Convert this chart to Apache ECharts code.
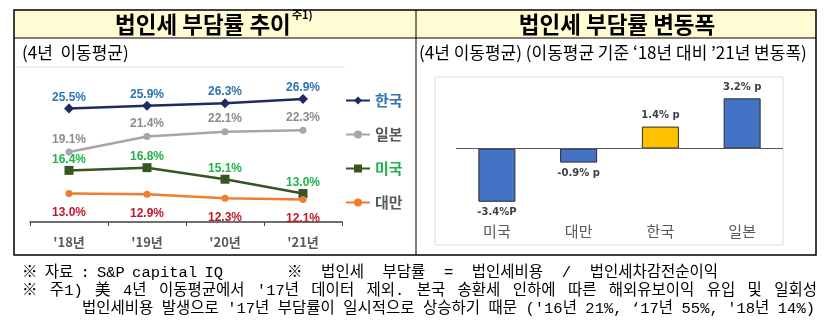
<!DOCTYPE html>
<html><head><meta charset="utf-8">
<script src="https://cdn.jsdelivr.net/npm/echarts@6/dist/echarts.min.js"></script>
<style>html,body{margin:0;padding:0;background:#fff}#c{width:835px;height:330px}</style>
</head><body><div id="c"></div>
<script>
// ---- data ----
const years = ["'18년", "'19년", "'20년", "'21년"];
const korea = [25.5, 25.9, 26.3, 26.9];
const japan = [19.1, 21.4, 22.1, 22.3];
const usa = [16.4, 16.8, 15.1, 13.0];
const taiwan = [13.0, 12.9, 12.3, 12.1];
const barCats = ['미국', '대만', '한국', '일본'];
const barVals = [-3.4, -0.9, 1.4, 3.2];
const barLabels = ['-3.4%P', '-0.9% p', '1.4% p', '3.2% p'];
const note1a = '※ 자료 : S&P capital IQ';
const note1b = '※ 법인세 부담률 = 법인세비용 / 법인세차감전순이익';
const note2 = "※ 주1) 美 4년 이동평균에서 '17년 데이터 제외. 본국 송환세 인하에 따른 해외유보이익 유입 및 일회성";
const note3 = "법인세비용 발생으로 '17년 부담률이 일시적으로 상승하기 때문 ('16년 21%, ‘17년 55%, '18년 14%)";

const KR = "'Noto Sans CJK KR', sans-serif";
const NOTE_FONT_FAMILY = "'Liberation Mono', 'Noto Sans CJK KR', monospace";
const NOTE_SIZE = 15.5;
const chart = echarts.init(document.getElementById('c'), null, {renderer: 'canvas'});

// justify a line of text between x0 and x1 by spreading inter-word spaces
const mctx = document.createElement('canvas').getContext('2d');
mctx.font = NOTE_SIZE + 'px ' + NOTE_FONT_FAMILY;
function justify(text, x0, x1, y) {
  const words = text.split(' ');
  const widths = words.map(w => mctx.measureText(w).width);
  const total = widths.reduce((a, b) => a + b, 0);
  const gap = words.length > 1 ? (x1 - x0 - total) / (words.length - 1) : 0;
  const out = [];
  let x = x0;
  words.forEach((w, i) => {
    out.push({type: 'text', x: x, y: y, style: {text: w, fontFamily: NOTE_FONT_FAMILY, fontSize: NOTE_SIZE, fill: '#000', verticalAlign: 'middle'}});
    x += widths[i] + gap;
  });
  return out;
}

const labelFont = {fontFamily: "'Liberation Sans', sans-serif", fontWeight: 'bold', fontSize: 12};
function lineSeries(name, data, color, symbol, size, labelColor, pos, dist) {
  return {
    name, type: 'line', data, xAxisIndex: 0, yAxisIndex: 0,
    symbol, symbolSize: size, showAllSymbol: true,
    lineStyle: {color, width: 2.5}, itemStyle: {color},
    label: Object.assign({show: true, position: pos, distance: dist, color: labelColor, formatter: p => p.value.toFixed(1) + '%'}, labelFont),
    emphasis: {disabled: true}, animation: false
  };
}

const option = {
  animation: false,
  grid: [
    {left: 30, width: 312, top: 78, height: 144},
    {left: 456, width: 327, top: 78, height: 141}
  ],
  xAxis: [
    {gridIndex: 0, type: 'category', data: years, boundaryGap: true,
     axisLine: {lineStyle: {color: '#404040', width: 1.5}},
     axisTick: {show: true, length: 4, lineStyle: {color: '#404040'}},
     axisLabel: {color: '#595959', fontFamily: KR, fontWeight: 'bold', fontSize: 13, margin: 14}},
    {gridIndex: 1, type: 'category', data: barCats,
     axisLine: {show: false, onZero: false}, axisTick: {show: false},
     axisLabel: {color: '#595959', fontFamily: KR, fontSize: 15, margin: 5}}
  ],
  yAxis: [
    {gridIndex: 0, type: 'value', min: 8.8, max: 30, show: false, splitLine: {show: false}},
    {gridIndex: 1, type: 'value', min: -4.5, max: 4.5, show: false, splitLine: {show: false}}
  ],
  legend: {
    orient: 'vertical', left: 340, top: 88, itemGap: 19, itemWidth: 24, itemHeight: 10,
    textStyle: {fontFamily: KR, fontSize: 15, fontWeight: 'bold'},
    data: [
      {name: '한국', textStyle: {color: '#2e74b5'}},
      {name: '일본', textStyle: {color: '#595959'}},
      {name: '미국', textStyle: {color: '#22b14c'}},
      {name: '대만', textStyle: {color: '#595959'}}
    ]
  },
  series: [
    lineSeries('한국', korea, '#1f2a60', 'diamond', 10, '#2e74b5', 'top', 0),
    lineSeries('일본', japan, '#a6a6a6', 'circle', 7, '#8c8c8c', 'top', 3),
    lineSeries('미국', usa, '#375623', 'rect', 9, '#22b14c', 'top', 0),
    lineSeries('대만', taiwan, '#ed7d31', 'circle', 7, '#c0182b', 'bottom', 10),
    {
      type: 'bar', xAxisIndex: 1, yAxisIndex: 1, barWidth: 37,
      data: barVals.map((v, i) => ({value: v, itemStyle: {color: barCats[i] === '한국' ? '#ffc000' : '#4472c4'}})),
      itemStyle: {borderColor: '#2b2b2b', borderWidth: 1},
      label: {show: true, position: 'outside', distance: 6, color: '#404040',
        fontFamily: "'DejaVu Sans', sans-serif", fontWeight: 'bold', fontSize: 10,
        formatter: p => barLabels[p.dataIndex]},
      markLine: {silent: true, symbol: 'none', label: {show: false},
        lineStyle: {color: '#595959', width: 1.2, type: 'solid'}, data: [{yAxis: 0}]},
      emphasis: {disabled: true}
    }
  ],
  graphic: [
    {type: 'rect', shape: {x: 14, y: 10, width: 802, height: 28}, style: {fill: '#fffbd2'}, z: -10},
    {type: 'line', shape: {x1: 15, y1: 67, x2: 345, y2: 67}, style: {stroke: '#e3e3e3', lineWidth: 1}},
    {type: 'rect', shape: {x: 435, y: 77, width: 348, height: 168}, style: {fill: 'none', stroke: '#dddddd', lineWidth: 1}},
    {type: 'rect', shape: {x: 14, y: 10, width: 802, height: 245}, style: {fill: 'none', stroke: '#000', lineWidth: 1.5}, z: 10},
    {type: 'line', shape: {x1: 14, y1: 38, x2: 816, y2: 38}, style: {stroke: '#000', lineWidth: 1}, z: 10},
    {type: 'line', shape: {x1: 416, y1: 10, x2: 416, y2: 255}, style: {stroke: '#000', lineWidth: 1}, z: 10},
    {type: 'text', x: 115, y: 24, style: {text: '법인세 부담률 추이', fontFamily: KR, fontWeight: 'bold', fontSize: 22.5, fill: '#000', verticalAlign: 'middle'}},
    {type: 'text', x: 292, y: 15, style: {text: '주1)', fontFamily: KR, fontWeight: 'bold', fontSize: 11, fill: '#000', verticalAlign: 'middle'}},
    {type: 'text', x: 617, y: 24, style: {text: '법인세 부담률 변동폭', fontFamily: KR, fontWeight: 'bold', fontSize: 22.5, fill: '#000', align: 'center', verticalAlign: 'middle'}},
    {type: 'text', x: 22, y: 53, style: {text: '(4년  이동평균)', fontFamily: KR, fontSize: 17, fill: '#000', verticalAlign: 'middle'}},
    {type: 'text', x: 419, y: 53, style: {text: "(4년 이동평균) (이동평균 기준 ‘18년 대비 ’21년 변동폭)", fontFamily: KR, fontSize: 17, fill: '#000', verticalAlign: 'middle'}}
  ].concat(
    justify(note1a, 22, 223, 273),
    justify(note1b, 287, 718, 273),
    justify(note2, 22, 817, 291),
    justify(note3, 82, 815, 309)
  )
};
chart.setOption(option);
</script></body></html>
